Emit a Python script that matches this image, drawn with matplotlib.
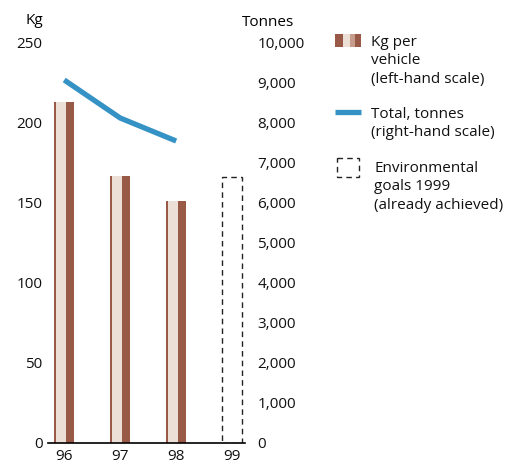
import matplotlib.pyplot as plt
from matplotlib.patches import Rectangle

plt.rcParams['font.family'] = ['Open Sans', 'DejaVu Sans']

years = ['96', '97', '98', '99']
kg_per_vehicle = [213, 167, 151]          # bars, left scale
total_tonnes = [9075, 8125, 7550]         # line, right scale
goal_1999 = 166                           # dashed bar, left scale

brown = '#985a47'
light = '#ecdfd6'
mid = '#c69d8c'
blue = '#3592c5'
fs = 11

W, H = 522, 468
fig = plt.figure(figsize=(W / 100, H / 100), dpi=100)
ax = fig.add_axes([48 / W, 25 / H, 197 / W, 400 / H])
ax2 = ax.twinx()

x = list(range(len(years)))
bw = 0.36

# striped bars: brown body with a light strip left of centre
for i, v in enumerate(kg_per_vehicle):
    ax.bar(i, v, width=bw, color=brown, linewidth=0)
    ax.bar(i - 0.06, v, width=bw * 0.5, color=light, linewidth=0)

# 1999 goal as a dashed outline
ax.bar(3, goal_1999, width=bw, facecolor='none', edgecolor='#222222',
       linewidth=1.0, linestyle=(0, (4, 3)))

ax2.plot(x[:len(total_tonnes)], total_tonnes, color=blue, linewidth=3.8,
         solid_capstyle='butt')

ax.set_xlim(-0.29, 3.23)
ax.set_ylim(0, 250)
ax2.set_ylim(0, 10000)
ax.set_xticks(x)
ax.set_xticklabels(years)
ax.set_yticks([0, 50, 100, 150, 200, 250])
ax2.set_yticks(range(0, 10001, 1000))
ax2.set_yticklabels([f'{v:,}' for v in range(0, 10001, 1000)])

for a in (ax, ax2):
    for s in ('top', 'left', 'right'):
        a.spines[s].set_visible(False)
    a.spines['bottom'].set_linewidth(1.2)
ax2.spines['bottom'].set_visible(False)
ax.tick_params(axis='both', length=0, labelsize=fs, colors='#111111')
ax.tick_params(axis='y', pad=4)
ax.tick_params(axis='x', pad=4)
ax2.tick_params(axis='y', length=0, labelsize=fs, pad=9, colors='#111111')
for t in ax2.get_yticklabels():
    t.set_horizontalalignment('left')

fig.text(43 / W, 1 - 20 / H, 'Kg', ha='right', va='center', fontsize=fs)
fig.text(242 / W, 1 - 22 / H, 'Tonnes', ha='left', va='center', fontsize=fs)

# legend drawn in pixel coordinates
lg = fig.add_axes([0, 0, 1, 1], facecolor='none')
lg.set_xlim(0, W)
lg.set_ylim(H, 0)
lg.axis('off')
for x0, x1, c in [(335, 343, brown), (343, 350, light), (350, 355, mid), (355, 361, brown)]:
    lg.add_patch(Rectangle((x0, 34), x1 - x0, 13, color=c, linewidth=0))
lg.plot([335, 361], [112, 112], color=blue, linewidth=3.8, solid_capstyle='butt')
lg.add_patch(Rectangle((337, 158), 22, 19, facecolor='none', edgecolor='#222222',
                       linewidth=1.0, linestyle=(0, (4, 3))))

tkw = dict(fontsize=fs, ha='left', va='top', linespacing=1.3, color='#111111')
lg.text(371, 35, 'Kg per\nvehicle\n(left-hand scale)', **tkw)
lg.text(371, 107, 'Total, tonnes\n(right-hand scale)', **tkw)
lg.text(374, 161, 'Environmental\ngoals 1999\n(already achieved)', **tkw)

fig.savefig('out.png', dpi=100)
